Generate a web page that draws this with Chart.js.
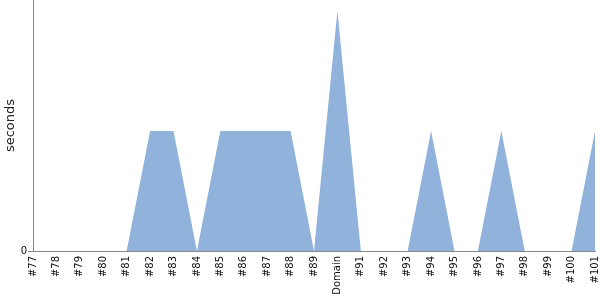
<!DOCTYPE html>
<html>
<head>
<meta charset="utf-8">
<script src="https://cdn.jsdelivr.net/npm/chart.js@4"></script>
<style>
  html, body { margin: 0; padding: 0; background: #fff; }
  #wrap { width: 600px; height: 300px; }
</style>
</head>
<body>
<div id="wrap"><canvas id="chart" width="600" height="300"></canvas></div>
<script>
// Libellés et valeurs
const builds = ['#77', '#78', '#79', '#80', '#81', '#82', '#83', '#84', '#85', '#86', '#87', '#88', '#89',
  'Domain', '#91', '#92', '#93', '#94', '#95', '#96', '#97', '#98', '#99', '#100', '#101'];
const seconds = [0, 0, 0, 0, 0, 1, 1, 0, 1, 1, 1, 1, 0,
  2, 0, 0, 0, 1, 0, 0, 1, 0, 0, 0, 1];
const yMax = 2.09;

const ctx = document.getElementById('chart').getContext('2d');
new Chart(ctx, {
  type: 'line',
  data: {
    labels: builds,
    datasets: [{
      data: seconds,
      fill: 'origin',
      backgroundColor: 'rgb(144,178,219)',
      borderWidth: 0,
      borderColor: 'rgba(0,0,0,0)',
      pointRadius: 0,
      tension: 0
    }]
  },
  options: {
    responsive: false,
    animation: false,
    layout: { padding: 0 },
    plugins: { legend: { display: false }, tooltip: { enabled: false } },
    scales: {
      x: {
        offset: false,
        grid: { display: false, tickLength: 3 },
        border: { color: '#888' },
        ticks: {
          autoSkip: false,
          minRotation: 90,
          maxRotation: 90,
          padding: 2,
          color: '#111',
          font: { family: 'DejaVu Sans', size: 10 }
        },
        afterFit: (scale) => {
          scale.height = 49;
          scale.paddingRight = 5;
          scale.paddingLeft = 0;
        }
      },
      y: {
        min: 0,
        max: yMax,
        grid: {
          display: true,
          drawOnChartArea: false,
          tickLength: 5,
          color: (c) => c.tick && c.tick.value === 0 ? '#888' : 'rgba(0,0,0,0)'
        },
        border: { color: '#888' },
        title: {
          display: true,
          text: 'seconds',
          color: '#222',
          padding: { top: 3, bottom: 0 },
          font: { family: 'DejaVu Sans', size: 13 }
        },
        ticks: {
          stepSize: 1,
          padding: 1,
          color: '#111',
          font: { family: 'DejaVu Sans', size: 10 },
          callback: (v) => v === 0 ? '0' : ''
        },
        afterFit: (scale) => {
          scale.width = 33;
          scale.paddingTop = 0;
          scale.paddingBottom = 0;
        }
      }
    }
  }
});
</script>
</body>
</html>
